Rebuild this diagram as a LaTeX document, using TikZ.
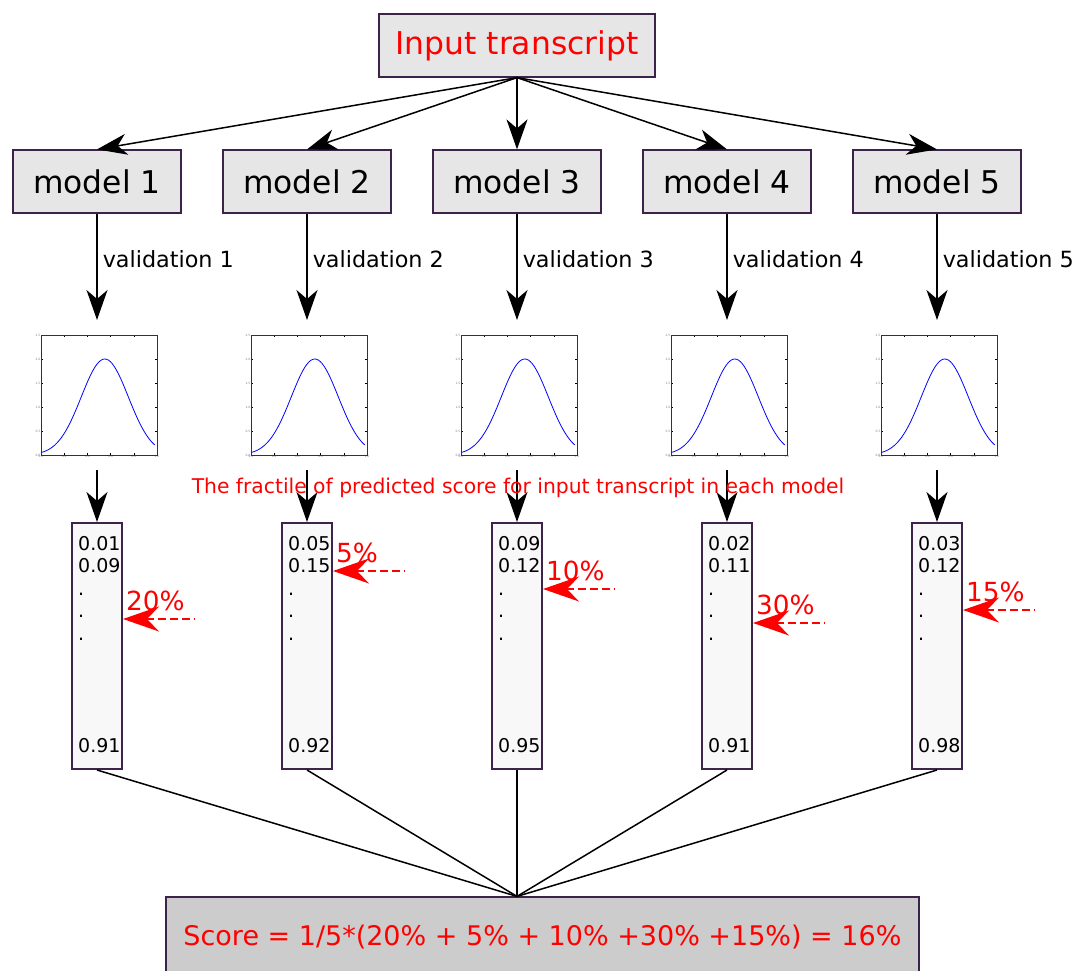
\documentclass[tikz,border=0pt]{standalone}
\usepackage{fontspec}
\setmainfont{DejaVu Sans}
\usepackage{tikz}
\usetikzlibrary{arrows.meta, positioning, calc}
\definecolor{boxline}{HTML}{3D2249}
\definecolor{boxfill}{HTML}{E6E6E6}
\definecolor{colfill}{HTML}{F8F8F8}
\definecolor{scorefill}{HTML}{CCCCCC}
\tikzset{
  inbox/.style={draw=boxline, fill=boxfill, line width=1.2pt, minimum width=276pt, minimum height=63pt, text=red, font=\fontsize{31.4}{36}\selectfont},
  modelbox/.style={draw=boxline, fill=boxfill, line width=1.2pt, minimum width=168pt, minimum height=63pt, font=\fontsize{31.3}{36}\selectfont},
  colbox/.style={draw=boxline, fill=colfill, line width=2pt, minimum width=50pt, minimum height=246pt},
  scorebox/.style={draw=boxline, fill=scorefill, line width=1.2pt, minimum width=753pt, minimum height=80pt, text=red, font=\fontsize{27}{32}\selectfont},
  link/.style={-{Stealth[length=30pt,width=21pt,inset=9pt]}, line width=1.5pt},
  sumline/.style={line width=1.5pt},
  pct/.style={{Stealth[length=36pt,width=25pt,inset=12pt]}-, red, line width=1.4pt, dash pattern=on 8pt off 4pt},
  vlabel/.style={right, inner sep=5pt, font=\fontsize{22.3}{26}\selectfont},
  num/.style={anchor=base west, inner sep=0pt, font=\fontsize{19}{22}\selectfont},
  pctlabel/.style={anchor=base west, inner sep=0pt, text=red, font=\fontsize{26.3}{30}\selectfont},
  tick/.style={inner sep=0.5pt, text=gray, font=\fontsize{3}{3.5}\selectfont},
}
\begin{document}
\begin{tikzpicture}[x=1pt, y=-1pt]
\useasboundingbox (0,0) rectangle (1077,970);
\node[inbox] (top) at (517,45.5) {Input transcript};
\node[scorebox] (score) at (542.5,937) {Score = 1/5*(20\% + 5\% + 10\% +30\% +15\%) = 16\%};
\coordinate (meet) at (score.north -| top.south);
% one column per model
\foreach \i/\lo/\hi/\last/\pc/\py in {1/0.01/0.09/0.91/20/619, 2/0.05/0.15/0.92/5/571, 3/0.09/0.12/0.95/10/589, 4/0.02/0.11/0.91/30/623, 5/0.03/0.12/0.98/15/610} {
  \pgfmathsetmacro\cx{97+210*(\i-1)}
  \node[modelbox] (m\i) at (\cx,181.5) {model \i};
  \draw[link] (top.south) -- (m\i.north);
  \coordinate (v\i) at (\cx,320);
  \draw[link] (m\i.south) -- node[vlabel, pos=0.43] {validation \i} (v\i);
  % small plot
  \begin{scope}[shift={(\cx-56,455)}, x=116pt, y=48pt]
    \foreach \t in {0.0,0.2,0.4,0.6,0.8,1.0} {
      \draw[line width=0.3pt] (\t,0) -- ++(0,0.04) (\t,2.5) -- ++(0,-0.04);
      \node[tick, below] at (\t,0) {\t};
    }
    \foreach \t in {0.0,0.5,1.0,1.5,2.0,2.5} {
      \draw[line width=0.3pt] (0,\t) -- ++(0.02,0) (1,\t) -- ++(-0.02,0);
      \node[tick, left] at (0,\t) {\t};
    }
    \draw[blue, line width=0.8pt] plot[domain=0:0.98, samples=60, smooth] (\x, {2*exp(-(\x-0.55)^2/0.082)});
    \draw[line width=0.9pt, black!80] (0,0) rectangle (1,2.5);
  \end{scope}
  \coordinate (a\i) at (\cx,470);
  \node[colbox] (c\i) at (\cx,646) {};
  \draw[link] (a\i) -- (c\i.north);
  \node[num] (n\i a) at (\cx-19,550) {\lo};
  \node[num] (n\i b) at (\cx-19,572) {\hi};
  \node[num] (n\i c) at (\cx-19,595) {.};
  \node[num] (n\i d) at (\cx-19,617) {.};
  \node[num] (n\i e) at (\cx-19,640) {.};
  \node[num] (n\i f) at (\cx-19,752) {\last};
  \coordinate (t\i) at (\cx+98,\py);
  \draw[pct] (c\i.east |- t\i) -- (t\i);
  \node[pctlabel] (p\i) at ($(c\i.east |- t\i)+(3,-9)$) {\pc\%};
  \draw[sumline] (c\i.south) -- (meet);
}
\node[text=red, font=\fontsize{20.3}{24}\selectfont] (fractile) at (518,488) {The fractile of predicted score for input transcript in each model};
\end{tikzpicture}
\end{document}
